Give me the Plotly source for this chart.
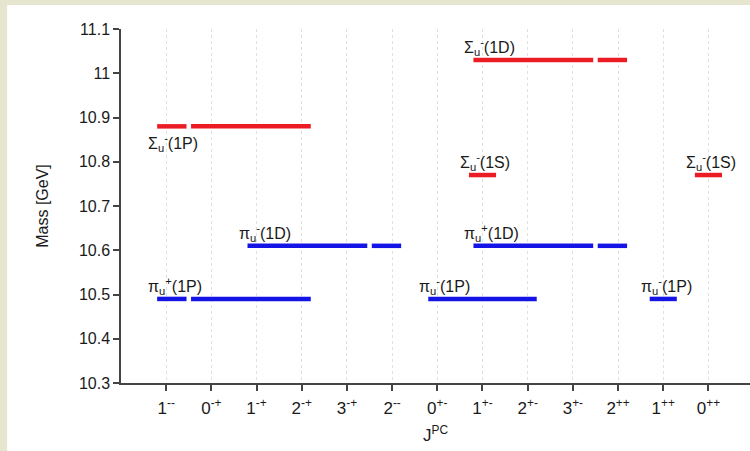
import plotly.graph_objects as go

# J^PC quantum numbers along the horizontal axis (positions 1..13)
jpc_keys = ["1--", "0-+", "1-+", "2-+", "3-+", "2--",
            "0+-", "1+-", "2+-", "3+-", "2++", "1++", "0++"]
jpc_ticktext = ["1<sup>--</sup>", "0<sup>-+</sup>", "1<sup>-+</sup>", "2<sup>-+</sup>",
                "3<sup>-+</sup>", "2<sup>--</sup>", "0<sup>+-</sup>", "1<sup>+-</sup>",
                "2<sup>+-</sup>", "3<sup>+-</sup>", "2<sup>++</sup>", "1<sup>++</sup>",
                "0<sup>++</sup>"]

# Mass axis ticks
mass_ticks = [10.3, 10.4, 10.5, 10.6, 10.7, 10.8, 10.9, 11.0, 11.1]
mass_ticktext = ["10.3", "10.4", "10.5", "10.6", "10.7", "10.8", "10.9", "11", "11.1"]

# Hybrid multiplets: name, mass [GeV], family, sub-groups of degenerate J^PC states
level_names = ["Σ<sub>u</sub><sup>-</sup>(1P)", "Σ<sub>u</sub><sup>-</sup>(1D)",
               "Σ<sub>u</sub><sup>-</sup>(1S)", "Σ<sub>u</sub><sup>-</sup>(1S)",
               "π<sub>u</sub><sup>-</sup>(1D)", "π<sub>u</sub><sup>+</sup>(1P)",
               "π<sub>u</sub><sup>+</sup>(1D)", "π<sub>u</sub><sup>-</sup>(1P)",
               "π<sub>u</sub><sup>-</sup>(1P)"]
level_mass = [10.88, 11.03, 10.77, 10.77, 10.61, 10.49, 10.61, 10.49, 10.49]
level_family = ["sigma", "sigma", "sigma", "sigma", "pi", "pi", "pi", "pi", "pi"]
level_groups = [
    [["1--"], ["0-+", "1-+", "2-+"]],
    [["1+-", "2+-", "3+-"], ["2++"]],
    [["1+-"]],
    [["0++"]],
    [["1-+", "2-+", "3-+"], ["2--"]],
    [["1--"], ["0-+", "1-+", "2-+"]],
    [["1+-", "2+-", "3+-"], ["2++"]],
    [["0+-", "1+-", "2+-"]],
    [["1++"]],
]
label_side = ["below", "above", "above", "above", "above", "above", "above", "above", "above"]

family_color = {"sigma": "#ec1c24", "pi": "#1414e6"}

PAD_MULTI = 0.2    # overhang beyond the outer states of a multiplet
PAD_SINGLE = 0.3   # overhang for a one-state level
HALF_GAP = 0.05    # half-width of the break between sub-groups

pos = {k: i + 1 for i, k in enumerate(jpc_keys)}

fig = go.Figure()
annotations = []

for name, mass, fam, groups, side in zip(level_names, level_mass, level_family,
                                         level_groups, label_side):
    xs, ys = [], []
    single = len(groups) == 1 and len(groups[0]) == 1
    start_x = None
    for gi, grp in enumerate(groups):
        first = pos[grp[0]]
        last = pos[grp[-1]]
        if gi == 0:
            x0 = first - (PAD_SINGLE if single else PAD_MULTI)
        else:
            x0 = (pos[groups[gi - 1][-1]] + first) / 2 + HALF_GAP
        if gi == len(groups) - 1:
            x1 = last + (PAD_SINGLE if single else PAD_MULTI)
        else:
            x1 = (last + pos[groups[gi + 1][0]]) / 2 - HALF_GAP
        if start_x is None:
            start_x = x0
        xs += [x0, x1, None]
        ys += [mass, mass, None]
    fig.add_trace(go.Scatter(x=xs, y=ys, mode="lines",
                             line=dict(color=family_color[fam], width=4.5),
                             hoverinfo="skip", showlegend=False))
    annotations.append(dict(
        x=start_x, y=mass, xref="x", yref="y", text=name,
        showarrow=False, xanchor="left", yanchor="middle",
        xshift=-11, yshift=(-17 if side == "below" else 13),
        font=dict(size=16, color="#1a1a1a"),
    ))

font_family = "Liberation Sans, Arial, Helvetica, sans-serif"

fig.update_layout(
    width=750, height=451,
    margin=dict(l=121, r=0, t=29, b=68),
    paper_bgcolor="#e6e5cf",
    plot_bgcolor="white",
    font=dict(family=font_family, color="#1a1a1a"),
    annotations=annotations,
    shapes=[dict(type="rect", xref="paper", yref="paper",
                 x0=-0.181, x1=1.02, y0=-0.3, y1=1.068,
                 fillcolor="white", line=dict(width=0), layer="below")],
    xaxis=dict(
        range=[0, 13.92],
        tickmode="array", tickvals=[pos[k] for k in jpc_keys], ticktext=jpc_ticktext,
        tickfont=dict(size=17, color="#1a1a1a"), ticklabelstandoff=3,
        ticks="outside", ticklen=6, tickwidth=1.5, tickcolor="#444444",
        showline=True, linecolor="#444444", linewidth=1.5,
        showgrid=True, gridcolor="#e0e0e0", griddash="dot", gridwidth=1,
        zeroline=False,
        title=dict(text="J<sup>PC</sup>", font=dict(size=17), standoff=12),
    ),
    yaxis=dict(
        range=[10.3, 11.1],
        tickmode="array", tickvals=mass_ticks, ticktext=mass_ticktext,
        tickfont=dict(size=16, color="#1a1a1a"),
        ticks="outside", ticklen=6, tickwidth=1.5, tickcolor="#444444",
        showline=True, linecolor="#444444", linewidth=1.5,
        showgrid=False, zeroline=False,
        title=dict(text="Mass [GeV]", font=dict(size=16), standoff=26),
    ),
)

fig.write_html("out.html")
